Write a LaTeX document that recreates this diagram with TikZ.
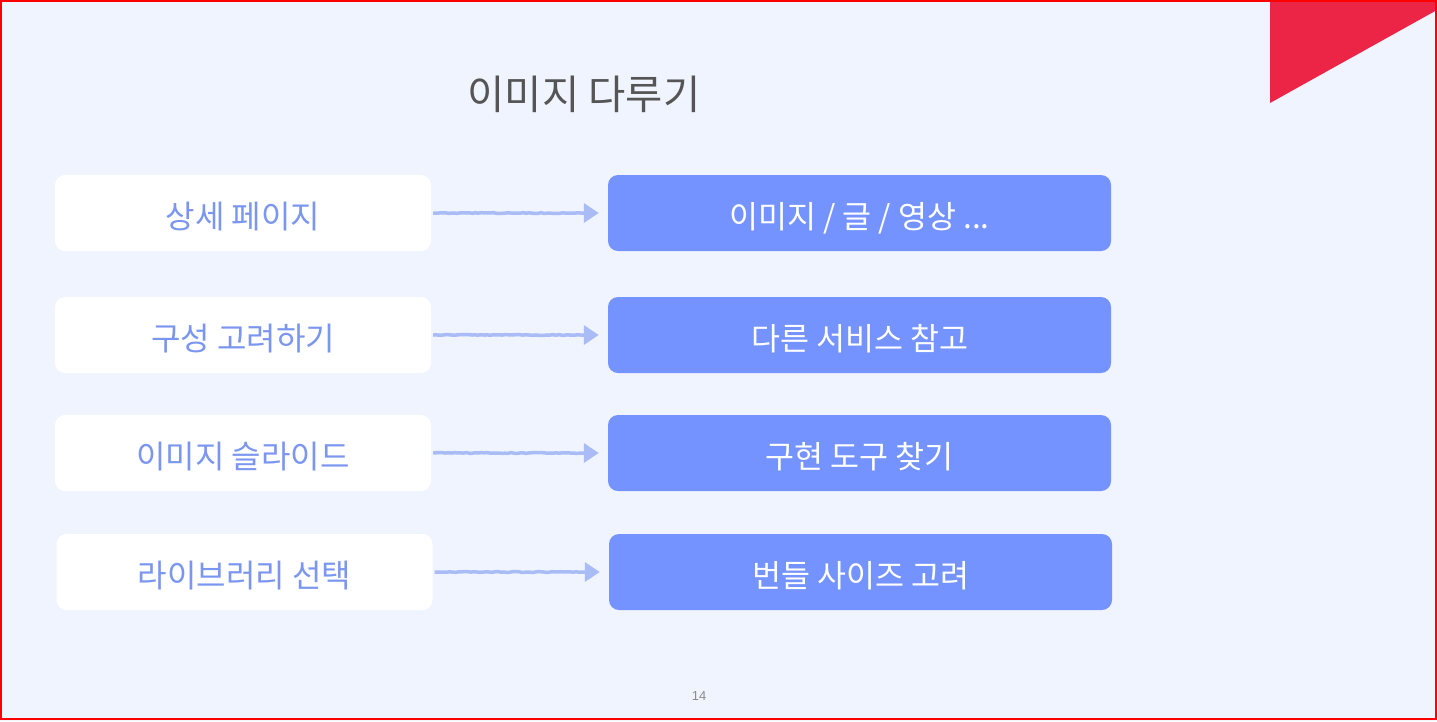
\documentclass[tikz,border=0pt]{standalone}
\usepackage{fontspec}
\newfontfamily\kr{Noto Sans CJK KR}
\newfontfamily\pgnum{Liberation Sans}
\usetikzlibrary{arrows.meta,decorations.pathmorphing}
\definecolor{bg}{HTML}{F0F4FF}
\definecolor{accent}{HTML}{7493FF}
\definecolor{lefttext}{HTML}{7B96F0}
\definecolor{arrowc}{HTML}{A9BCF5}
\definecolor{redtri}{HTML}{EC2446}
\definecolor{titlec}{HTML}{555555}
\definecolor{pgc}{HTML}{8C8C8C}
\tikzset{
  x=1pt,y=1pt,
  leftbox/.style={fill=white,rounded corners=10pt,minimum width=376pt,minimum height=76pt,inner sep=0pt,
    text height=34pt,text depth=4pt,
    text=lefttext,font=\kr\fontsize{32}{36}\selectfont},
  rightbox/.style={fill=accent,rounded corners=10pt,minimum width=503pt,minimum height=76pt,inner sep=0pt,
    text height=34pt,text depth=4pt,
    text=white,font=\kr\fontsize{31.5}{36}\selectfont},
  conn/.style={draw=arrowc,line width=3.5pt,-{Triangle[length=15pt,width=19pt]},
    decorate,decoration={random steps,segment length=3pt,amplitude=0.4pt,post=lineto,post length=18pt}},
}
\begin{document}
\begin{tikzpicture}
\useasboundingbox (0,0) rectangle (1437,-721);
\fill[bg] (0,0) rectangle (1437,-721);
\fill[redtri] (1270,0) -- (1437,0) -- (1437,-10) -- (1270,-103) -- cycle;
\draw[red,line width=2pt] (1,-1) rectangle (1436,-719);
\node[text=titlec,font=\kr\fontsize{40.5}{44}\selectfont] (title) at (584,-94) {이미지 다루기};

\node[leftbox] (l1) at (243,-213) {상세 페이지};
\node[leftbox] (l2) at (243,-335) {구성 고려하기};
\node[leftbox] (l3) at (243,-453) {이미지 슬라이드};
\node[leftbox] (l4) at (244.5,-572) {라이브러리 선택};

\node[rightbox] (r1) at (859.5,-213) {이미지 / 글 / 영상 ...};
\node[rightbox] (r2) at (859.5,-335) {다른 서비스 참고};
\node[rightbox] (r3) at (859.5,-453) {구현 도구 찾기};
\node[rightbox] (r4) at (860.5,-572) {번들 사이즈 고려};

\path (l1.east) ++(2,0) coordinate (a1s) (r1.west) ++(-9,0) coordinate (a1e);
\path[conn] (a1s) -- (a1e);
\path (l2.east) ++(2,0) coordinate (a2s) (r2.west) ++(-9,0) coordinate (a2e);
\path[conn] (a2s) -- (a2e);
\path (l3.east) ++(2,0) coordinate (a3s) (r3.west) ++(-9,0) coordinate (a3e);
\path[conn] (a3s) -- (a3e);
\path (l4.east) ++(2,0) coordinate (a4s) (r4.west) ++(-9,0) coordinate (a4e);
\path[conn] (a4s) -- (a4e);

\node[text=pgc,font=\pgnum\fontsize{13}{15}\selectfont] (pg) at (699,-696) {14};
\end{tikzpicture}
\end{document}
